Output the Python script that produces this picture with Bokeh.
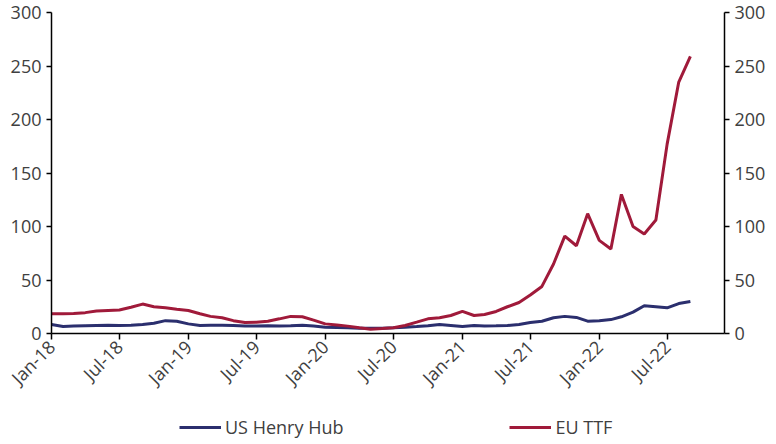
import pandas as pd
from bokeh.plotting import figure
from bokeh.layouts import column
from bokeh.models import LinearAxis, Legend, LegendItem, MonthsTicker, DatetimeTickFormatter, FixedTicker, Range1d
from bokeh.embed import file_html
from bokeh.resources import INLINE
import math

months = pd.date_range("2018-01-01", periods=57, freq="MS")

us_henry_hub = [8.4, 6.5, 6.9, 7.2, 7.5, 7.8, 7.5, 7.8, 8.4, 9.6, 12.0, 11.5,
                9.0, 7.5, 7.8, 7.8, 7.5, 7.0, 7.0, 7.2, 7.0, 7.2, 7.8, 6.9,
                5.9, 5.6, 5.3, 5.0, 5.0, 5.0, 5.3, 5.9, 6.5, 7.2, 8.4, 7.5,
                6.5, 7.5, 7.0, 7.2, 7.5, 8.4, 10.3, 11.5, 14.7, 16.0, 15.0, 11.5,
                12.0, 13.0, 15.6, 20.0, 26.0, 25.0, 24.0, 28.0, 30.0]

eu_ttf = [18.5, 18.5, 18.8, 19.5, 21.0, 21.5, 22.0, 24.6, 27.5, 25.0, 24.0, 22.7,
          21.5, 18.4, 16.0, 14.7, 12.0, 10.3, 10.6, 11.5, 13.7, 16.0, 15.6, 12.5,
          9.0, 8.0, 6.9, 5.3, 4.0, 4.6, 5.3, 7.5, 10.6, 13.7, 14.7, 16.8,
          20.6, 16.8, 17.8, 20.6, 25.0, 29.0, 36.0, 44.0, 65.0, 91.0, 82.0, 112.0,
          87.0, 79.0, 130.0, 100.0, 93.0, 106.0, 177.0, 235.0, 259.0]

y_ticks = [0, 50, 100, 150, 200, 250, 300]
series_names = ["US Henry Hub", "EU TTF"]
series_colors = ["#2B2F6E", "#A01A3A"]

FONT = "Open Sans"
TXT = "#404040"
FS = "18px"

p = figure(width=776, height=400, output_backend="svg", toolbar_location=None,
           x_axis_type="datetime",
           x_range=Range1d(pd.Timestamp("2018-01-01"), pd.Timestamp("2022-12-01")),
           y_range=Range1d(0, 300),
           min_border_left=51, min_border_right=52, min_border_top=12, min_border_bottom=67)
p.outline_line_color = None
p.background_fill_color = "white"
p.border_fill_color = "white"

p.line(months, us_henry_hub, line_color=series_colors[0], line_width=3)
p.line(months, eu_ttf, line_color=series_colors[1], line_width=3)

p.xgrid.visible = False
p.ygrid.ticker = FixedTicker(ticks=[300])
p.ygrid.grid_line_color = "#d9d9d9"
p.ygrid.grid_line_width = 1.5

def style_axis(ax):
    ax.axis_line_color = "black"
    ax.axis_line_width = 1.5
    ax.major_tick_line_color = "black"
    ax.major_tick_line_width = 1.5
    ax.major_tick_out = 5
    ax.major_tick_in = 0
    ax.minor_tick_line_color = None
    ax.major_label_text_font = FONT
    ax.major_label_text_font_size = FS
    ax.major_label_text_color = TXT

yl = p.yaxis[0]
yl.ticker = FixedTicker(ticks=y_ticks)
style_axis(yl)
yl.major_label_standoff = 5

yr = LinearAxis(ticker=FixedTicker(ticks=y_ticks))
style_axis(yr)
yr.major_label_standoff = 5
p.add_layout(yr, "right")

xa = p.xaxis[0]
xa.ticker = MonthsTicker(months=[0, 6])
xa.formatter = DatetimeTickFormatter(months="%b-%y", years="%b-%y", days="%b-%y")
style_axis(xa)
xa.major_tick_out = 6
xa.major_label_orientation = math.pi / 4
xa.major_label_standoff = 4

# legend strip below the chart
lg = figure(width=776, height=44, output_backend="svg", toolbar_location=None,
            x_range=Range1d(0, 1), y_range=Range1d(0, 1),
            x_axis_location=None, y_axis_location=None,
            min_border_left=0, min_border_right=0, min_border_top=0, min_border_bottom=0)
lg.outline_line_color = None
lg.xgrid.visible = False
lg.ygrid.visible = False
l1 = lg.line(months, us_henry_hub, line_color=series_colors[0], line_width=3)
l2 = lg.line(months, eu_ttf, line_color=series_colors[1], line_width=3)

legend = Legend(items=[LegendItem(label=series_names[0], renderers=[l1]),
                       LegendItem(label=series_names[1], renderers=[l2])],
                orientation="horizontal", location=(128, 5),
                label_text_font=FONT, label_text_font_size=FS, label_text_color=TXT,
                glyph_width=42, glyph_height=20, label_standoff=4, spacing=166,
                border_line_color=None, background_fill_alpha=0,
                padding=0, margin=0)
lg.add_layout(legend, "center")

open("out.html", "w").write(file_html(column(p, lg, spacing=0), INLINE))
